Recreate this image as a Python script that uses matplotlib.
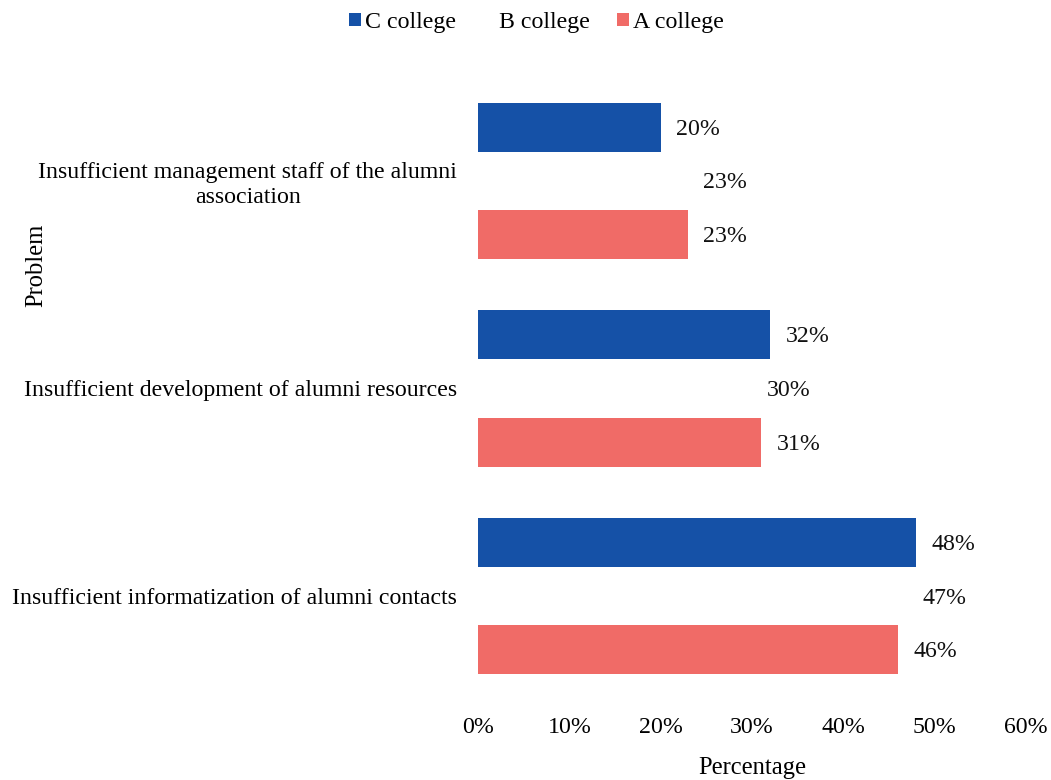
import matplotlib
matplotlib.use("Agg")
import matplotlib.pyplot as plt
import numpy as np

plt.rcParams['font.family'] = ['Liberation Serif', 'DejaVu Serif']

categories = ["Insufficient management staff of the alumni\nassociation",
              "Insufficient development of alumni resources",
              "Insufficient informatization of alumni contacts"]
series = ["C college", "B college", "A college"]
c_vals = [20, 32, 48]
b_vals = [23, 30, 47]
a_vals = [23, 31, 46]
xticks = [0, 10, 20, 30, 40, 50, 60]

colors = {"C college": "#1551A7", "B college": "#FFFFFF", "A college": "#F06B67"}
values = {"C college": c_vals, "B college": b_vals, "A college": a_vals}

FS = 17.2

fig = plt.figure(figsize=(10.51, 7.80), dpi=100)
ax = fig.add_axes([0.4548, 0.1026, 0.5214, 0.7987])

slot = 0.258
height = 0.236
pos = np.arange(len(categories))
handles = []
for i, s in enumerate(series):
    y = pos + (i - 1) * slot
    bars = ax.barh(y, values[s], height=height, color=colors[s], label=s)
    handles.append(bars)
    for yy, v in zip(y, values[s]):
        ax.annotate(f"{v}%", xy=(v, yy), xytext=(11, -1.5), textcoords="offset points",
                    ha="left", va="center", fontsize=FS, color="#111111")

ax.set_ylim(len(categories) - 0.5, -0.5)
ax.set_xlim(0, 60)
ax.set_xticks(xticks)
ax.set_xticklabels([f"{t}%" for t in xticks], fontsize=FS)
ax.set_yticks(pos)
ax.set_yticklabels(categories, fontsize=FS, ha="right", multialignment="center", linespacing=1.2)
ax.tick_params(axis="both", length=0)
ax.tick_params(axis="x", pad=12)
ax.tick_params(axis="y", pad=15)
for sp in ax.spines.values():
    sp.set_visible(False)

ax.set_xlabel("Percentage", fontsize=FS + 0.5, labelpad=14)
fig.text(0.035, 0.66, "Problem", rotation=90, fontsize=FS + 0.5, ha="center", va="center")

leg = fig.legend(handles=handles, labels=series, loc="upper center", bbox_to_anchor=(0.5105, 1.012),
                 ncol=3, frameon=False, fontsize=FS, handlelength=0.5, handleheight=0.45,
                 handletextpad=0.17, columnspacing=1.13)

fig.savefig("out.png", dpi=100)
